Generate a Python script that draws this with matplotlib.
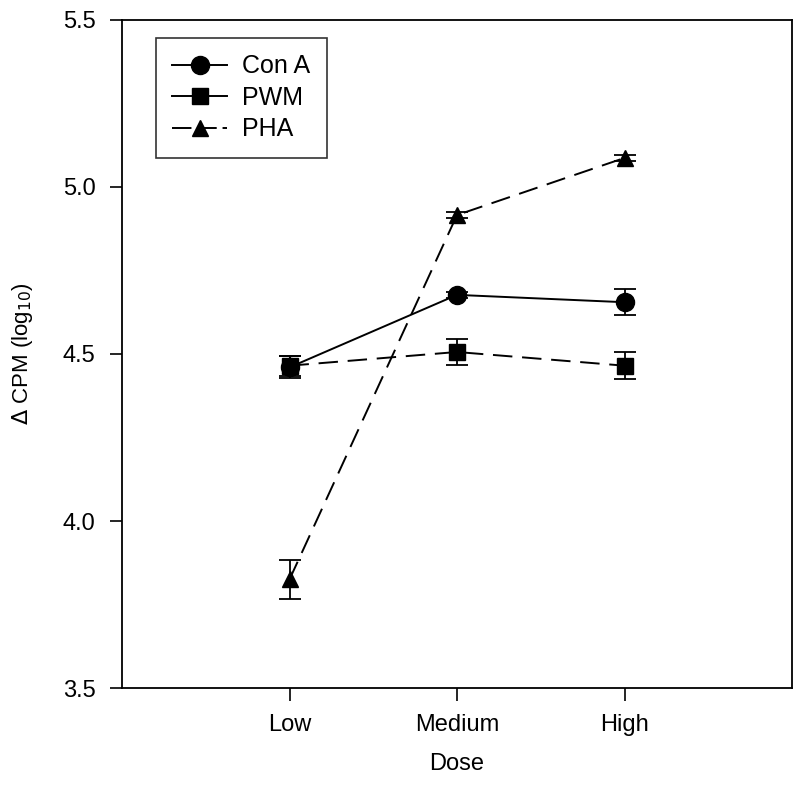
import matplotlib.pyplot as plt
import matplotlib as mpl
from matplotlib.lines import Line2D

mpl.rcParams['font.family'] = ['Liberation Sans', 'DejaVu Sans']
mpl.rcParams['axes.linewidth'] = 1.3
mpl.rcParams['font.size'] = 17

doses = ['Low', 'Medium', 'High']
xpos = [1, 2, 3]

cona = [4.46, 4.677, 4.655]
cona_err = [0.033, 0.01, 0.039]
pwm = [4.465, 4.506, 4.465]
pwm_err = [0.03, 0.04, 0.04]
pha = [3.825, 4.916, 5.087]
pha_err = [0.058, 0.008, 0.01]

fig = plt.figure(figsize=(8, 7.93), dpi=100)
ax = fig.add_axes([0.1525, 0.1324, 0.8375, 0.8424])

ax.errorbar(xpos, pha, yerr=pha_err, color='black', marker='^', markersize=12,
            linewidth=1.4, dashes=(10, 5), capsize=8, elinewidth=1.3, capthick=1.3,
            zorder=3)
ax.errorbar(xpos, pwm, yerr=pwm_err, color='black', marker='s', markersize=12,
            linewidth=1.4, dashes=(10, 5), capsize=8, elinewidth=1.3, capthick=1.3,
            zorder=4)
ax.errorbar(xpos, cona, yerr=cona_err, color='black', marker='o', markersize=13,
            linewidth=1.4, capsize=8, elinewidth=1.3, capthick=1.3,
            zorder=5)

ax.set_xlim(0, 4)
ax.set_ylim(3.5, 5.5)
ax.set_xticks(xpos)
ax.set_xticklabels(doses)
ax.set_yticks([3.5, 4.0, 4.5, 5.0, 5.5])
ax.set_yticklabels(['3.5', '4.0', '4.5', '5.0', '5.5'])
ax.tick_params(direction='out', length=9, width=1.2, pad=10)

ax.set_xlabel('Dose', fontsize=17, labelpad=12)
ax.set_ylabel(r'$\Delta$ CPM (log$_{10}$)', fontsize=16, labelpad=20)

handles = [
    Line2D([], [], color='black', marker='o', markersize=13, linewidth=1.4),
    Line2D([], [], color='black', marker='s', markersize=12, linewidth=1.4),
    Line2D([], [], color='black', marker='^', markersize=12, linewidth=1.4,
           dashes=(10, 3)),
]
leg = ax.legend(handles, ['Con A', 'PWM', 'PHA'],
                loc='upper left', bbox_to_anchor=(0.051, 0.973), fontsize=18,
                frameon=True, fancybox=False, edgecolor='black', handlelength=2.2,
                handletextpad=0.6, borderpad=0.65, labelspacing=0.3,
                borderaxespad=0)
leg.get_frame().set_linewidth(1.2)

fig.savefig('out.png', dpi=100)
